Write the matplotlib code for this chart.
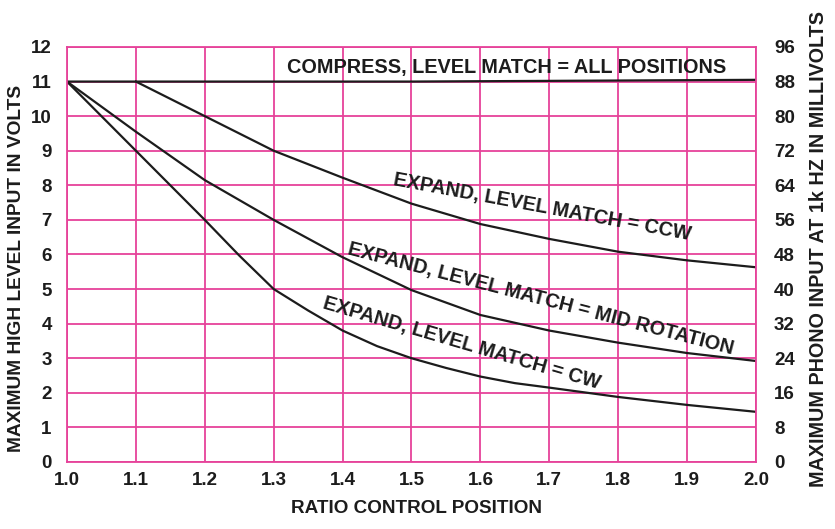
import matplotlib
matplotlib.use("Agg")
import matplotlib.pyplot as plt

plt.rcParams['font.family'] = ['Liberation Sans', 'DejaVu Sans']
plt.rcParams['font.weight'] = 'bold'

# Data
compress_x = [1.0, 1.5, 2.0]
compress_all = [11.0, 11.0, 11.05]

ccw_x = [1.1, 1.2, 1.3, 1.4, 1.5, 1.6, 1.7, 1.8, 1.9, 2.0]
ccw = [11.0, 10.0, 9.0, 8.22, 7.47, 6.88, 6.45, 6.08, 5.83, 5.63]

mid_x = [1.0, 1.1, 1.2, 1.3, 1.4, 1.5, 1.6, 1.7, 1.8, 1.9, 2.0]
mid = [11.0, 9.55, 8.15, 7.0, 5.92, 4.97, 4.25, 3.8, 3.45, 3.15, 2.92]

cw_x = [1.0, 1.1, 1.2, 1.25, 1.3, 1.35, 1.4, 1.45, 1.5, 1.55, 1.6, 1.65, 1.7, 1.8, 1.9, 2.0]
cw = [11.0, 9.0, 7.0, 5.97, 5.0, 4.38, 3.8, 3.35, 3.0, 2.72, 2.47, 2.28, 2.15, 1.88, 1.65, 1.45]

x_ticks = [1.0, 1.1, 1.2, 1.3, 1.4, 1.5, 1.6, 1.7, 1.8, 1.9, 2.0]
y_ticks = list(range(0, 13))
y2_ticks = list(range(0, 97, 8))

labels = {
    'compress': "COMPRESS, LEVEL MATCH = ALL POSITIONS",
    'ccw': "EXPAND, LEVEL MATCH = CCW",
    'mid': "EXPAND, LEVEL MATCH = MID ROTATION",
    'cw': "EXPAND, LEVEL MATCH = CW",
}

grid_color = '#e6429a'
ink = '#1c1c1c'

fig = plt.figure(figsize=(8.35, 5.29), dpi=100)
ax = fig.add_axes([0.0802, 0.1267, 0.8252, 0.7845])

ax.set_xlim(1.0, 2.0)
ax.set_ylim(0, 12)
ax.set_xticks(x_ticks)
ax.set_xticklabels([f"{v:.1f}" for v in x_ticks])
ax.set_yticks(y_ticks)
ax.grid(True, color=grid_color, linewidth=1.3)
ax.set_axisbelow(True)
for s in ax.spines.values():
    s.set_color(grid_color)
    s.set_linewidth(1.3)
ax.tick_params(length=0, labelsize=13.5, pad=11, labelcolor=ink)
ax.tick_params(axis='x', pad=7)

lw = 1.6
ax.plot(compress_x, compress_all, color=ink, lw=lw)
ax.plot(ccw_x, ccw, color=ink, lw=lw)
ax.plot(mid_x, mid, color=ink, lw=lw)
ax.plot(cw_x, cw, color=ink, lw=lw)

ax2 = ax.twinx()
ax2.set_ylim(0, 96)
ax2.set_yticks(y2_ticks)
ax2.tick_params(length=0, labelsize=13.5, pad=13, labelcolor=ink)
for s in ax2.spines.values():
    s.set_visible(False)

ax.set_xlabel("RATIO CONTROL POSITION", fontsize=13.6, fontweight='bold', color=ink)
ax.xaxis.set_label_coords(0.507, -0.092)
ax.set_ylabel("MAXIMUM HIGH LEVEL INPUT IN VOLTS", fontsize=13.8, fontweight='bold', color=ink)
ax.yaxis.set_label_coords(-0.061, 0.467)
ax2.set_ylabel("MAXIMUM PHONO INPUT AT 1k HZ IN MILLIVOLTS", fontsize=14.2, fontweight='bold', color=ink)
ax2.yaxis.set_label_coords(1.077, 0.513)

tk = dict(fontsize=14.3, fontweight='bold', color=ink, ha='center', va='center',
          rotation_mode='anchor')
ax.text(1.638, 11.42, labels['compress'], **tk)
ax.text(1.69, 7.38, labels['ccw'], rotation=-10.5, **tk)
ax.text(1.687, 4.72, labels['mid'], rotation=-14.6, **tk)
ax.text(1.573, 3.42, labels['cw'], rotation=-16.3, **tk)

fig.savefig("out.png", dpi=100, facecolor='white')
